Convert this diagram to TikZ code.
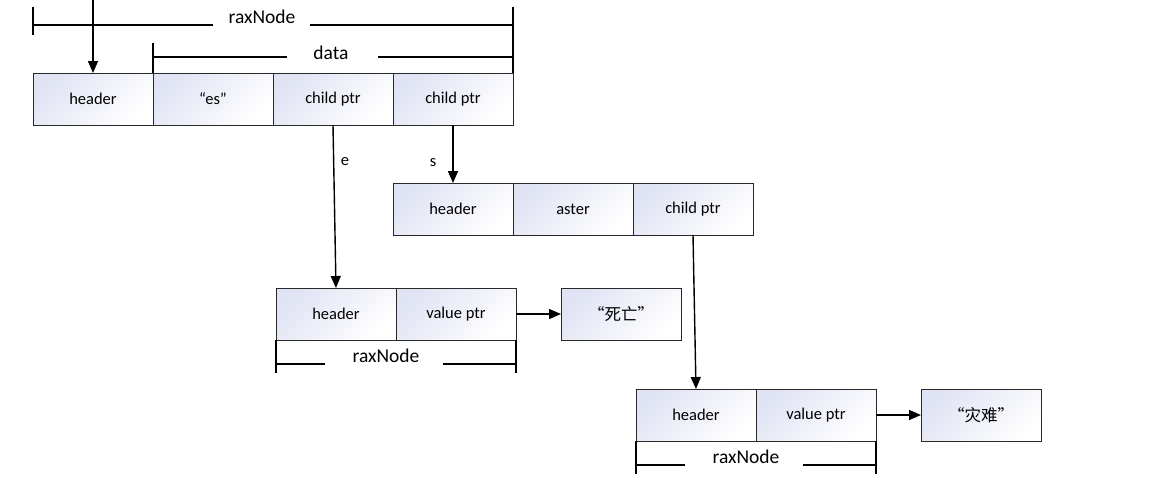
\documentclass[tikz,border=0pt]{standalone}
\usepackage{fontspec}
\setmainfont{Carlito}
\newfontfamily\cjk{Noto Sans CJK SC}
\usetikzlibrary{arrows.meta}
\definecolor{cellfill}{RGB}{224,227,243}
\definecolor{cellline}{RGB}{40,40,40}
\tikzset{
  cell/.style={draw=cellline, line width=0.9pt, minimum width=120pt, minimum height=52pt,
    inner sep=0pt, outer sep=0pt, top color=cellfill, bottom color=white, shading angle=45,
    font=\fontsize{16.5}{19}\selectfont},
  arr/.style={line width=1.4pt, -{Triangle[length=12pt,width=10pt]}},
  brk/.style={line width=1.4pt},
  blabel/.style={font=\fontsize{19.5}{22}\selectfont, anchor=base, inner sep=0pt},
  elabel/.style={font=\fontsize{16.5}{19}\selectfont, inner sep=0pt}
}
\begin{document}
\begin{tikzpicture}[x=1pt,y=-1pt]
\useasboundingbox (0,0) rectangle (1151,490);
% row 1
\node[cell] (r1a) at (93,99) {header};
\node[cell] (r1b) at (213,99) {“es”};
\node[cell] (r1c) at (333,99) {child ptr};
\node[cell] (r1d) at (453,99) {child ptr};
% row 2
\node[cell] (r2a) at (453,209) {header};
\node[cell] (r2b) at (573,209) {aster};
\node[cell] (r2c) at (693,209) {child ptr};
% row 3
\node[cell] (r3a) at (336,314) {header};
\node[cell] (r3b) at (456,314) {value ptr};
\node[cell] (v3) at (621,314) {\cjk “死亡”};
% row 4
\node[cell] (r4a) at (696,415) {header};
\node[cell] (r4b) at (816,415) {value ptr};
\node[cell] (v4) at (981,415) {\cjk “灾难”};
% top brackets
\draw[brk] (33,7) -- (33,35);
\draw[brk] (33,25) -- (213,25);
\draw[brk] (310,25) -- (513,25);
\draw[brk] (513,7) -- (513,73);
\node[blabel] (lraxtop) at (262,23) {raxNode};
\draw[brk] (153,43) -- (153,73);
\draw[brk] (153,57) -- (287,57);
\draw[brk] (378,57) -- (513,57);
\node[blabel] (ldata) at (331,59) {data};
% lower brackets
\draw[brk] (276,340) -- (276,373);
\draw[brk] (516,340) -- (516,373);
\draw[brk] (276,364) -- (325,364);
\draw[brk] (443,364) -- (516,364);
\node[blabel] (lrax3) at (386,362) {raxNode};
\draw[brk] (636,441) -- (636,474);
\draw[brk] (876,441) -- (876,474);
\draw[brk] (636,465) -- (685,465);
\draw[brk] (803,465) -- (876,465);
\node[blabel] (lrax4) at (746,463) {raxNode};
% connectors
\coordinate (topin) at (93,0);
\draw[arr] (topin) -- (r1a.north);
\draw[arr] (r1c.south) -- (r3a.north);
\draw[arr] (r1d.south) -- (r2a.north);
\draw[arr] (r2c.south) -- (r4a.north);
\draw[arr] (r3b.east) -- (v3.west);
\draw[arr] (r4b.east) -- (v4.west);
\node[elabel] (le) at (345,162) {e};
\node[elabel] (ls) at (433,163) {s};
\end{tikzpicture}
\end{document}
